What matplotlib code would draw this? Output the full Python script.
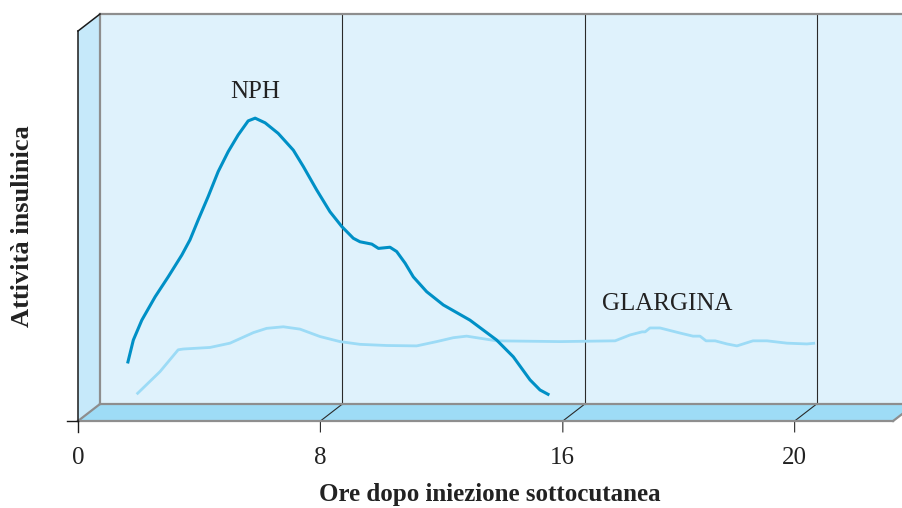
import numpy as np
import matplotlib
matplotlib.use("Agg")
from matplotlib import pyplot as plt
from matplotlib.patches import Polygon

# hours (position along the axis) and insulin activity (arbitrary units, 0-100)
nph_hours = [0.91, 1.10, 1.38, 1.82, 2.25, 2.70, 2.97, 3.24, 3.57, 3.90, 4.23,
             4.56, 4.89, 5.12, 5.45, 5.88, 6.38, 6.71, 7.15, 7.59, 7.98, 8.36,
             8.58, 8.97, 9.19, 9.57, 9.79, 10.07, 10.34, 10.78, 11.33, 12.21,
             13.09, 13.64, 14.19, 14.52, 14.83]
nph_activity = [10.4, 16.4, 21.5, 27.5, 32.6, 38.2, 42.1, 47.2, 53.2, 59.6, 64.7,
                69.0, 72.6, 73.3, 72.1, 69.4, 65.1, 60.9, 54.9, 49.3, 45.5, 42.5,
                41.6, 41.0, 39.9, 40.2, 39.1, 36.1, 32.6, 28.8, 25.4, 21.5,
                16.4, 12.1, 6.2, 3.6, 2.3]

glargina_hours = [1.21, 1.98, 2.58, 2.75, 3.63, 4.29, 5.06, 5.50, 6.05, 6.60, 7.26,
                  7.92, 8.58, 9.46, 10.45, 11.11, 11.66, 12.10, 13.09, 15.18,
                  17.00, 17.49, 17.89, 17.99, 18.15, 18.48, 19.14, 19.57, 19.80,
                  20.00, 20.30, 20.69, 21.02, 21.55, 22.01, 22.67, 23.33, 23.60]
glargina_activity = [2.5, 8.3, 13.9, 14.1, 14.5, 15.6, 18.3, 19.4, 19.8, 19.2, 17.3,
                     16.0, 15.3, 15.0, 14.9, 16.0, 17.0, 17.4, 16.2, 16.0,
                     16.2, 17.7, 18.5, 18.5, 19.5, 19.5, 18.2, 17.4, 17.4,
                     16.2, 16.2, 15.4, 14.9, 16.2, 16.2, 15.6, 15.4, 15.6]

tick_pos = [0, 8, 16, 23.65]
tick_labels = ['0', '8', '16', '20']

# pseudo 3D depth offset (front = back + offset)
DX, DY = -0.726, -4.36
TOP = 100
RIGHT = 26.9

SERIF = 'Liberation Serif'
BACK = '#dff2fc'
WALL = '#c6e9fa'
FLOOR = '#9edcf6'
EDGE = '#8e8e8e'
DARK_BLUE = '#0090c6'
LIGHT_BLUE = '#9cdbf6'

fig = plt.figure(figsize=(9.03, 5.08), dpi=100)
ax = fig.add_axes([0, 0, 1, 1])
ax.set_xlim(-3.30, 26.5)
ax.set_ylim(-26.67, 103.6)
ax.axis('off')

# back panel, side wall, floor
ax.add_patch(Polygon([(0, 0), (RIGHT, 0), (RIGHT, TOP), (0, TOP)], closed=True,
                     facecolor=BACK, edgecolor='none'))
ax.add_patch(Polygon([(DX, DY), (0, 0), (0, TOP), (DX, TOP + DY)], closed=True,
                     facecolor=WALL, edgecolor='none'))
ax.add_patch(Polygon([(0, 0), (RIGHT, 0), (RIGHT + DX, DY), (DX, DY)], closed=True,
                     facecolor=FLOOR, edgecolor='none'))

# grid lines on back panel with their diagonals to the front ticks
for p in tick_pos[1:]:
    ax.plot([p, p], [0, TOP], color='#2a2a2a', lw=0.8)
    ax.plot([p, p + DX, p + DX], [0, DY, DY - 2.8], color='#2a2a2a', lw=0.8)

# gray edges
ax.plot([0, RIGHT], [TOP, TOP], color=EDGE, lw=1.6)
ax.plot([0, 0], [0, TOP], color=EDGE, lw=1.6)
ax.plot([0, RIGHT], [0, 0], color=EDGE, lw=1.6)
ax.plot([DX, RIGHT + DX], [DY, DY], color=EDGE, lw=1.6)
ax.plot([DX, 0], [DY, 0], color=EDGE, lw=1.6)
ax.plot([RIGHT + DX, RIGHT], [DY, 0], color=EDGE, lw=1.6)

# front black axis
ax.plot([DX, DX], [DY, TOP + DY], color='#1a1a1a', lw=1.1)
ax.plot([DX, 0], [TOP + DY, TOP], color='#1a1a1a', lw=1.1)
ax.plot([DX - 0.37, DX], [DY, DY], color='#1a1a1a', lw=1.0)
ax.plot([DX, DX], [DY, DY - 2.8], color='#1a1a1a', lw=1.0)

# curves
ax.plot(glargina_hours, glargina_activity, color=LIGHT_BLUE, lw=2.0,
        solid_joinstyle='round', solid_capstyle='butt')
ax.plot(nph_hours, nph_activity, color=DARK_BLUE, lw=2.2,
        solid_joinstyle='round', solid_capstyle='butt')

ax.text(5.12, 80, 'NPH', family=SERIF, fontsize=18, color='#222222',
        ha='center', va='center')
ax.text(18.71, 25.6, 'GLARGINA', family=SERIF, fontsize=18, color='#222222',
        ha='center', va='center')

for p, lab in zip(tick_pos, tick_labels):
    ax.text(p + DX, -13.8, lab, family=SERIF, fontsize=18, color='#222222',
            ha='center', va='center')

ax.text(12.87, -23.3, 'Ore dopo iniezione sottocutanea', family=SERIF,
        fontsize=18, fontweight='bold', color='#222222', ha='center', va='center')
ax.text(-2.57, 45.6, 'Attività insulinica', family=SERIF, fontsize=19,
        fontweight='bold', color='#222222', ha='center', va='center', rotation=90)

plt.savefig('out.png', dpi=100)
